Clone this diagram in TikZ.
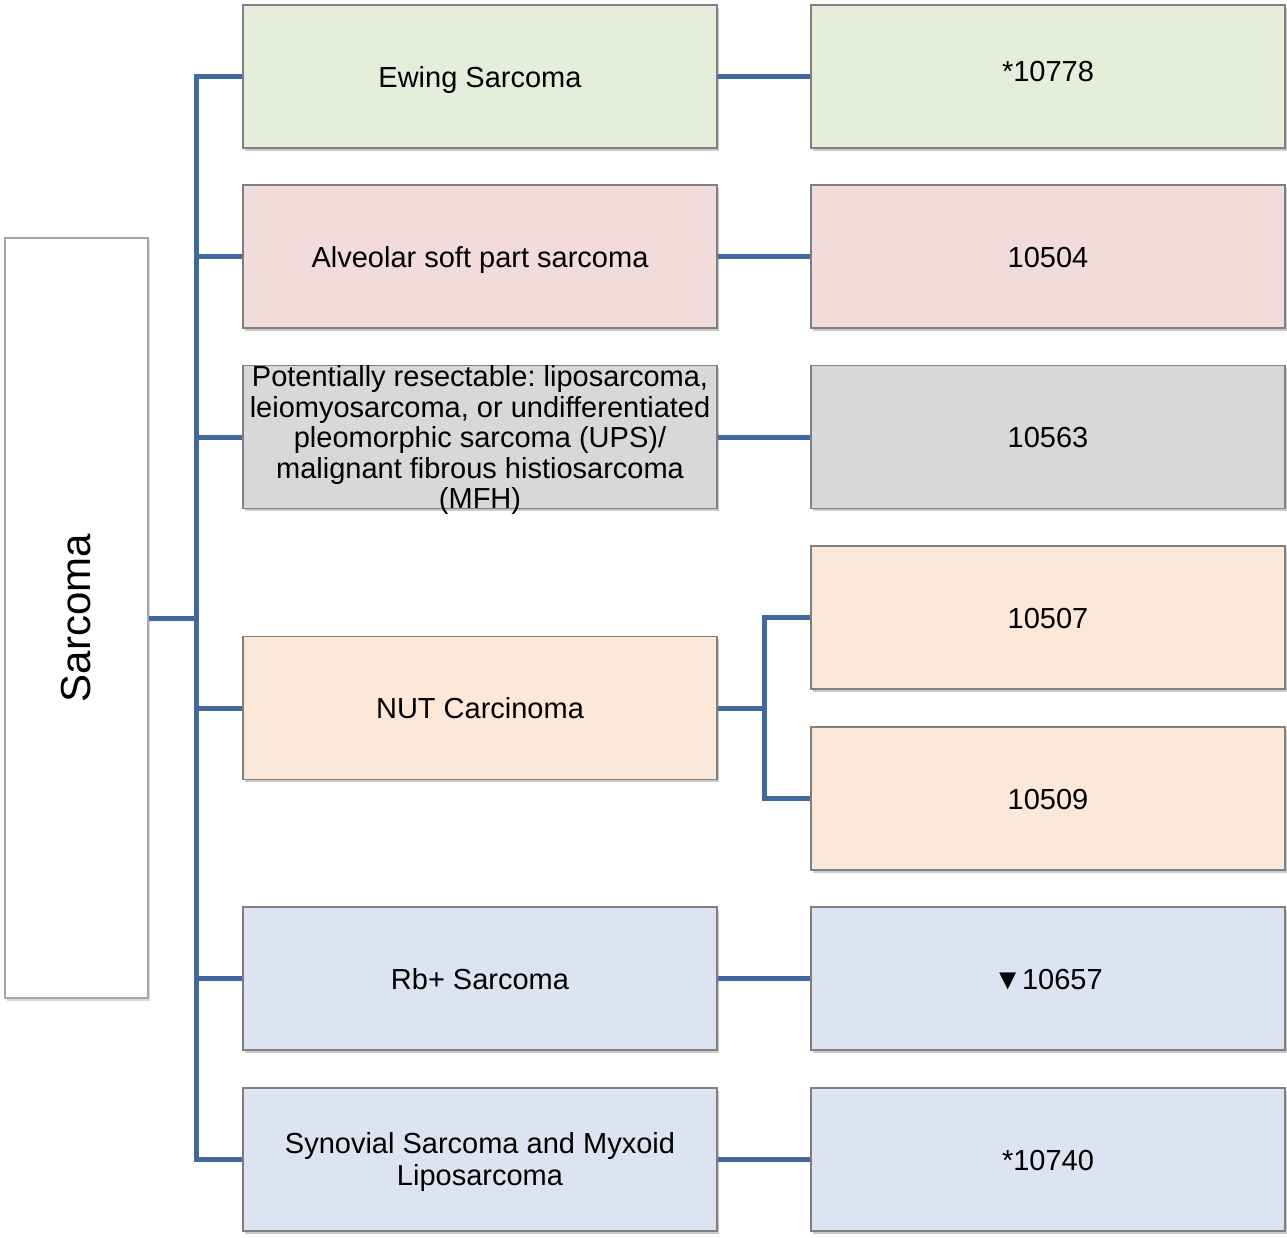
\documentclass[tikz,border=0pt]{standalone}
\usepackage{fontspec}
\setmainfont{Liberation Sans}
\usetikzlibrary{shadows}
\frenchspacing
\definecolor{conn}{RGB}{65,105,160}
\definecolor{bordergray}{RGB}{128,128,128}
\definecolor{fgreen}{RGB}{230,238,219}
\definecolor{fpink}{RGB}{241,219,219}
\definecolor{fgray}{RGB}{216,216,216}
\definecolor{fpeach}{RGB}{251,232,217}
\definecolor{fblue}{RGB}{219,228,240}
\tikzset{
  box/.style={draw=bordergray, line width=1.2pt, minimum width=474pt, minimum height=143pt,
    inner sep=0pt, align=center, font=\fontsize{29}{31}\selectfont,
    text height=21pt, text depth=0pt,
    drop shadow={shadow xshift=1.5pt, shadow yshift=-2.5pt, opacity=0.35, fill=black!60}},
  boxtext/.style={inner sep=0pt, align=center},
  rootbox/.style={draw=black!35, line width=1.2pt, fill=white, minimum width=143pt, minimum height=760pt,
    inner sep=0pt, drop shadow={shadow xshift=1.5pt, shadow yshift=-2.5pt, opacity=0.3, fill=black!50}},
  link/.style={draw=conn, line width=5pt, line join=miter}
}
\begin{document}
\begin{tikzpicture}[x=1pt,y=-1pt]
\useasboundingbox (0,0) rectangle (1287,1237);
% root
\node[rootbox] (root) at (76.5,618) {};
\node[rotate=90, font=\fontsize{42}{44}\selectfont] (roottext) at (root.center) {Sarcoma};
% middle column
\node[box, fill=fgreen] (m1) at (480,76.5) {Ewing Sarcoma};
\node[box, fill=fpink] (m2) at (480,256.5) {Alveolar soft part sarcoma};
\node[box, fill=fgray] (m3) at (480,437) {};
\node[boxtext, font=\fontsize{29}{30.5}\selectfont] (m3text) at ([yshift=-3pt]m3.center) {Potentially resectable: liposarcoma,\\leiomyosarcoma, or undifferentiated\\pleomorphic sarcoma (UPS)/\\malignant fibrous histiosarcoma\\(MFH)};
\node[box, fill=fpeach] (m4) at (480,708) {NUT Carcinoma};
\node[box, fill=fblue] (m5) at (480,978.5) {Rb+ Sarcoma};
\node[box, fill=fblue] (m6) at (480,1159.5) {};
\node[boxtext, font=\fontsize{29}{32}\selectfont] (m6text) at ([yshift=-2pt]m6.center) {Synovial Sarcoma and Myxoid\\Liposarcoma};
% right column
\node[box, fill=fgreen, text depth=10.5pt] (r1) at (1048,76.5) {*10778};
\node[box, fill=fpink] (r2) at (1048,256.5) {10504};
\node[box, fill=fgray] (r3) at (1048,437) {10563};
\node[box, fill=fpeach] (r4a) at (1048,617.5) {10507};
\node[box, fill=fpeach] (r4b) at (1048,798.5) {10509};
\node[box, fill=fblue] (r5) at (1048,978.5) {▼10657};
\node[box, fill=fblue] (r6) at (1048,1159.5) {*10740};
% connectors
\coordinate (trunkTop) at (196,76.5);
\draw[link] (m1.west) -- (m1.west -| trunkTop) -- (m6.west -| trunkTop) -- (m6.west);
\draw[link] (root.east) -- (root.east -| trunkTop);
\draw[link] (m2.west) -- (m2.west -| trunkTop);
\draw[link] (m3.west) -- (m3.west -| trunkTop);
\draw[link] (m4.west) -- (m4.west -| trunkTop);
\draw[link] (m5.west) -- (m5.west -| trunkTop);
\draw[link] (m1.east) -- (r1.west);
\draw[link] (m2.east) -- (r2.west);
\draw[link] (m3.east) -- (r3.west);
\draw[link] (m5.east) -- (r5.west);
\draw[link] (m6.east) -- (r6.west);
\coordinate (nutx) at (764,708);
\draw[link] (m4.east) -- (nutx);
\draw[link] (r4a.west) -- (r4a.west -| nutx) -- (r4b.west -| nutx) -- (r4b.west);
\end{tikzpicture}
\end{document}
